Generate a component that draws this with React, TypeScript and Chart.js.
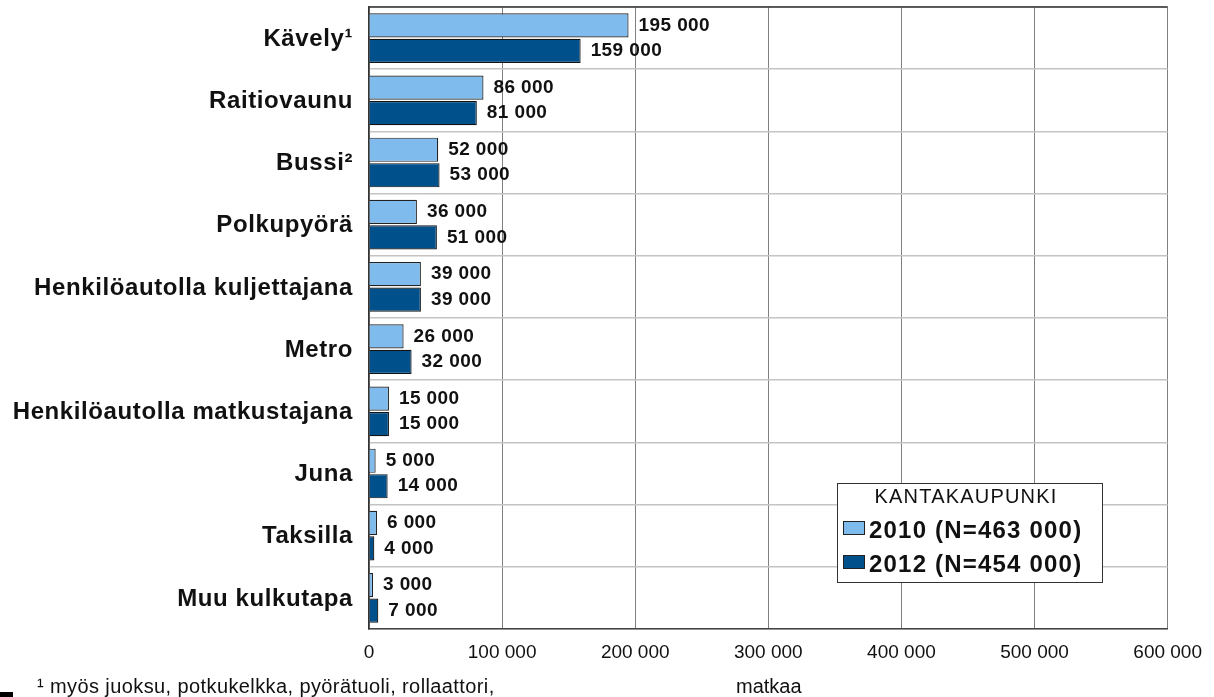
import React, { useEffect, useRef } from "react";
import { Chart, registerables } from "chart.js";

Chart.register(...registerables);

const categories = [
  "Kävely¹",
  "Raitiovaunu",
  "Bussi²",
  "Polkupyörä",
  "Henkilöautolla kuljettajana",
  "Metro",
  "Henkilöautolla matkustajana",
  "Juna",
  "Taksilla",
  "Muu kulkutapa",
];
const values2010 = [195000, 86000, 52000, 36000, 39000, 26000, 15000, 5000, 6000, 3000];
const values2012 = [159000, 81000, 53000, 51000, 39000, 32000, 15000, 14000, 4000, 7000];
const seriesLabels = ["2010 (N=463 000)", "2012 (N=454 000)"];
const legendTitle = "KANTAKAUPUNKI";
const footnoteLeft = "¹ myös juoksu, potkukelkka, pyörätuoli, rollaattori,";
const footnoteRight = "matkaa";
const xMin = 0;
const xMax = 600000;
const xStep = 100000;

const FONT = "'Liberation Sans', Arial, sans-serif";
const LIGHT = "#7fbbec";
const DARK = "#00508c";

const fmt = (n: number) => String(n).replace(/\B(?=(\d{3})+(?!\d))/g, " ");

const customPlugin = {
  id: "custom",
  afterDraw(chart: any) {
    const ctx = chart.ctx as CanvasRenderingContext2D;
    const area = chart.chartArea;
    const yScale = chart.scales.y;
    ctx.save();
    // top border
    ctx.strokeStyle = "#333";
    ctx.lineWidth = 1.5;
    ctx.beginPath();
    ctx.moveTo(area.left, area.top);
    ctx.lineTo(area.right, area.top);
    ctx.stroke();

    // category labels
    ctx.fillStyle = "#111";
    ctx.font = `bold 24px ${FONT}`;
    (ctx as any).letterSpacing = "0.6px";
    ctx.textAlign = "right";
    ctx.textBaseline = "middle";
    categories.forEach((c, i) => {
      ctx.fillText(c, area.left - 16, yScale.getPixelForTick(i) + 1);
    });

    // data labels
    ctx.font = `bold 19px ${FONT}`;
    (ctx as any).letterSpacing = "0.4px";
    ctx.textAlign = "left";
    chart.data.datasets.forEach((ds: any, di: number) => {
      const meta = chart.getDatasetMeta(di);
      meta.data.forEach((bar: any, i: number) => {
        ctx.fillText(fmt(ds.data[i]), bar.x + 10, bar.y);
      });
    });

    // legend
    const lx = 837, ly = 483, lw = 265, lh = 99;
    ctx.fillStyle = "#fff";
    ctx.fillRect(lx, ly, lw, lh);
    ctx.strokeStyle = "#333";
    ctx.lineWidth = 1;
    ctx.strokeRect(lx + 0.5, ly + 0.5, lw, lh);
    ctx.fillStyle = "#111";
    ctx.font = `20px ${FONT}`;
    (ctx as any).letterSpacing = "1.2px";
    ctx.textAlign = "center";
    ctx.textBaseline = "alphabetic";
    ctx.fillText(legendTitle, 966, 503);
    ctx.textAlign = "left";
    ctx.font = `bold 24px ${FONT}`;
    (ctx as any).letterSpacing = "1.2px";
    chart.data.datasets.forEach((ds: any, di: number) => {
      const sy = 521 + di * 34;
      ctx.fillStyle = ds.backgroundColor;
      ctx.fillRect(843, sy, 21, 13);
      ctx.strokeStyle = "#222";
      ctx.strokeRect(843.5, sy + 0.5, 21, 13);
      ctx.fillStyle = "#111";
      ctx.fillText(seriesLabels[di], 869, sy + 17);
    });

    // footnote
    ctx.font = `20px ${FONT}`;
    (ctx as any).letterSpacing = "0.4px";
    ctx.fillStyle = "#111";
    ctx.fillText(footnoteLeft, 37, 693);
    (ctx as any).letterSpacing = "0px";
    ctx.fillText(footnoteRight, 736, 693);
    ctx.fillStyle = "#000";
    ctx.fillRect(0, 692, 13, 5);
    ctx.restore();
  },
};

export default function App() {
  const ref = useRef<HTMLCanvasElement>(null);
  useEffect(() => {
    if (!ref.current) return;
    const chart = new Chart(ref.current, {
      type: "bar",
      data: {
        labels: categories,
        datasets: [
          {
            label: seriesLabels[0],
            data: values2010,
            backgroundColor: LIGHT,
            borderColor: "#222",
            borderWidth: 1.2,
            categoryPercentage: 0.82,
            barPercentage: 0.95,
          },
          {
            label: seriesLabels[1],
            data: values2012,
            backgroundColor: DARK,
            borderColor: "#111",
            borderWidth: 1.2,
            categoryPercentage: 0.82,
            barPercentage: 0.95,
          },
        ],
      },
      options: {
        indexAxis: "y",
        animation: false,
        responsive: true,
        maintainAspectRatio: false,
        layout: { padding: { left: 0, top: 7, right: 45, bottom: 0 } },
        plugins: { legend: { display: false }, tooltip: { enabled: false } },
        scales: {
          x: {
            min: xMin,
            max: xMax,
            afterFit: (s: any) => {
              s.height = 68;
            },
            ticks: {
              stepSize: xStep,
              padding: 12,
              color: "#111",
              font: { family: FONT, size: 19 },
              callback: (v: any) => fmt(Number(v)),
            },
            grid: { color: "#808080", lineWidth: 1, drawTicks: false },
            border: { display: true, color: "#444", width: 1.5 },
          },
          y: {
            afterFit: (s: any) => {
              s.width = 369;
            },
            ticks: { display: false },
            grid: { color: "#c4c4c4", lineWidth: 1.5, drawTicks: false },
            border: { display: true, color: "#333", width: 1.5 },
          },
        },
      },
      plugins: [customPlugin],
    });
    return () => chart.destroy();
  }, []);
  return (
    <div style={{ position: "absolute", left: 0, top: 0, width: 1214, height: 697, background: "#fff" }}>
      <canvas ref={ref} />
    </div>
  );
}
